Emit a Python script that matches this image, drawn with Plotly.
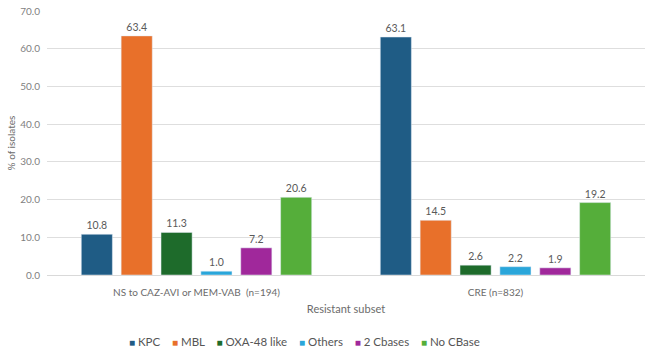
import plotly.graph_objects as go

categories = ["NS to CAZ-AVI or MEM-VAB  (n=194)", "CRE (n=832)"]
series_names = ["KPC", "MBL", "OXA-48 like", "Others", "2 Cbases", "No CBase"]
kpc = [10.8, 63.1]
mbl = [63.4, 14.5]
oxa = [11.3, 2.6]
others = [1.0, 2.2]
two_cbases = [7.2, 1.9]
no_cbase = [20.6, 19.2]
y_ticks = [0, 10, 20, 30, 40, 50, 60, 70]

values = [kpc, mbl, oxa, others, two_cbases, no_cbase]
colors = ["#1F5C85", "#E8702A", "#1E6B2B", "#2AA6DA", "#A0289B", "#55AE3A"]

font_family = "Lato, 'Open Sans', sans-serif"
grey = "#6b6b6b"

fig = go.Figure()
for name, vals, col in zip(series_names, values, colors):
    fig.add_trace(go.Bar(
        name=name, x=categories, y=vals, marker_color=col,
        text=[f"{v:.1f}" for v in vals], textposition="outside",
        textfont=dict(size=10.5, color="#595959", family=font_family),
        cliponaxis=False, showlegend=False,
    ))

# compact legend built from the series names and colours
sep = "&nbsp;&nbsp;&nbsp;&nbsp;"
legend_text = sep.join(
    f"<span style='color:{c};font-size:10px'>■</span>&nbsp;{n}"
    for n, c in zip(series_names, colors)
)
fig.add_annotation(
    text=legend_text, xref="paper", yref="paper", x=0.43, y=-0.25,
    xanchor="center", yanchor="middle", showarrow=False,
    font=dict(size=11.5, color="#555555", family=font_family),
)

fig.update_layout(
    width=650, height=355,
    margin=dict(l=47, r=5, t=11, b=80),
    paper_bgcolor="white", plot_bgcolor="white",
    barmode="group", bargap=0.2, bargroupgap=0.22,
    font=dict(family=font_family, color=grey),
    showlegend=False,
    xaxis=dict(
        title=dict(text="Resistant subset", font=dict(size=11, color=grey), standoff=8),
        tickfont=dict(size=10, color=grey), ticklabelstandoff=8,
        showline=True, linecolor="#d9d9d9", linewidth=1, ticks="",
    ),
    yaxis=dict(
        title=dict(text="% of isolates", font=dict(size=10, color=grey), standoff=2),
        range=[0, 70], tickvals=y_ticks, tickformat=".1f",
        tickfont=dict(size=10, color="#7f7f7f"), ticklabelstandoff=6,
        showgrid=True, gridcolor="#dedede", gridwidth=1, zeroline=False,
    ),
)

fig.write_html("out.html")
